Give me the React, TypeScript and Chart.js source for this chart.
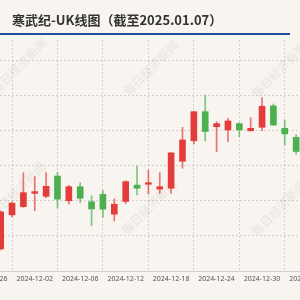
import React, { useEffect, useRef } from "react";
import { Chart, registerables } from "chart.js";

Chart.register(...registerables);

const titleText = "寒武纪-UK线图（截至2025.01.07）";
const watermarkText = "每日经济新闻";

const dates = [
  "2024-11-26", "2024-11-27", "2024-11-28", "2024-11-29", "2024-12-02",
  "2024-12-03", "2024-12-04", "2024-12-05", "2024-12-06", "2024-12-09",
  "2024-12-10", "2024-12-11", "2024-12-12", "2024-12-13", "2024-12-16",
  "2024-12-17", "2024-12-18", "2024-12-19", "2024-12-20", "2024-12-23",
  "2024-12-24", "2024-12-25", "2024-12-26", "2024-12-27", "2024-12-30",
  "2024-12-31", "2025-01-02", "2025-01-03", "2025-01-06", "2025-01-07",
];

// values for days outside the visible window are unknown (null)
const opens = [null, 592.6, 612.0, 616.7, 624.3, 622.6, 634.2, 620.1, 628.1, 619.5, 623.7, 612.4, 619.7, 629.0, 629.5, 626.7, 627.2, 642.6, 654.3, 670.9, 662.3, 660.5, 664.1, 660.0, 662.0, 674.2, 661.4, 656.3, null, null];
const closes = [null, 613.7, 618.7, 624.7, 625.3, 628.3, 621.0, 628.1, 621.5, 615.4, 615.3, 618.1, 631.0, 627.2, 630.4, 628.1, 647.4, 654.8, 670.9, 659.6, 664.1, 665.6, 660.5, 661.4, 674.0, 663.3, 658.2, 648.2, null, null];
const highs = [null, 614.2, 619.4, 636.1, 633.9, 636.1, 636.3, 628.9, 630.4, 622.9, 626.0, 621.1, 631.4, 639.9, 637.6, 636.1, 647.6, 662.0, 671.1, 680.4, 665.2, 667.1, 664.6, 667.5, 679.0, 675.3, 666.2, 657.9, null, null];
const lows = [null, 592.0, 610.9, 616.3, 614.4, 621.8, 615.9, 618.2, 619.0, 605.8, 610.5, 608.5, 618.4, 623.4, 623.9, 624.1, 624.2, 638.6, 652.5, 654.2, 648.1, 653.8, 656.6, 659.9, 660.1, 663.0, 651.9, 646.6, null, null];

const yMin = 580;
const yMax = 711.8;
const yStep = 20;
const labelStep = 4;
const xMin = -4.337;
const xMax = 32.619;

const UP = "#e23d3a";
const DOWN = "#4caf50";
const UP_WICK = "rgba(226,61,58,0.7)";
const DOWN_WICK = "rgba(76,175,80,0.7)";

const CANVAS_LEFT = -60;
const CANVAS_W = 420;
const CANVAS_H = 300;

const watermarkPlugin = {
  id: "watermark",
  beforeDatasetsDraw(chart: any) {
    const ctx = chart.ctx;
    const spots = [
      [19, 66], [151, 68], [279, 70],
      [18, 190], [149, 207], [279, 208],
    ];
    ctx.save();
    ctx.font = 'bold 12px "Noto Sans CJK SC", sans-serif';
    ctx.fillStyle = "rgba(0,0,0,0.055)";
    ctx.textAlign = "center";
    ctx.textBaseline = "middle";
    for (const [px, py] of spots) {
      ctx.save();
      ctx.translate(px - CANVAS_LEFT, py);
      ctx.rotate(-Math.PI / 4);
      ctx.fillText(watermarkText, 0, 0);
      ctx.restore();
    }
    ctx.restore();
  },
};

export default function App() {
  const ref = useRef<HTMLCanvasElement | null>(null);

  useEffect(() => {
    document.body.style.margin = "0";
    const idx = dates.map((_, i) => i).filter((i) => opens[i] != null);
    const colors = idx.map((i) => ((closes[i] as number) >= (opens[i] as number) ? UP : DOWN));
    const wickColors = idx.map((i) => ((closes[i] as number) >= (opens[i] as number) ? UP_WICK : DOWN_WICK));

    const chart = new Chart(ref.current as HTMLCanvasElement, {
      type: "bar",
      data: {
        datasets: [
          {
            label: "wick",
            data: idx.map((i) => ({ x: i, y: [lows[i], highs[i]] })) as any,
            backgroundColor: wickColors,
            barThickness: 1,
            grouped: false,
            order: 2,
          },
          {
            label: "body",
            data: idx.map((i) => ({ x: i, y: [opens[i], closes[i]] })) as any,
            backgroundColor: colors,
            barThickness: 6,
            grouped: false,
            order: 1,
          },
        ],
      },
      options: {
        animation: false,
        responsive: false,
        maintainAspectRatio: false,
        devicePixelRatio: 1,
        layout: { padding: { top: 40, left: 0, right: 0, bottom: 0 } },
        plugins: {
          legend: { display: false },
          tooltip: { enabled: false },
          title: { display: false },
        },
        scales: {
          x: {
            type: "linear",
            min: xMin,
            max: xMax,
            offset: false,
            grid: { color: "rgba(0,0,0,0.14)", drawTicks: false },
            border: { display: true, color: "#cfcfcf", dash: [2, 2] },
            ticks: {
              stepSize: labelStep,
              autoSkip: false,
              includeBounds: false,
              maxRotation: 0,
              padding: 3.3,
              color: "#555",
              font: { family: '"Noto Sans", sans-serif', size: 7 },
              callback: (v: any) => dates[v as number] ?? "",
            },
            afterFit: (s: any) => {
              s.height = 29;
            },
          },
          y: {
            type: "linear",
            min: yMin,
            max: yMax,
            grid: { color: "rgba(0,0,0,0.14)", drawTicks: false },
            border: { display: false, dash: [2, 2] },
            ticks: { display: false, stepSize: yStep, includeBounds: false },
            afterFit: (s: any) => {
              s.width = 0;
            },
          },
        },
      } as any,
      plugins: [watermarkPlugin],
    });
    return () => chart.destroy();
  }, []);

  return (
    <div
      style={{
        position: "fixed",
        left: 0,
        top: 0,
        width: 300,
        height: 300,
        overflow: "hidden",
        background: "#f8f5f0",
      }}
    >
      <canvas
        ref={ref}
        width={CANVAS_W}
        height={CANVAS_H}
        style={{ position: "absolute", left: CANVAS_LEFT, top: 0, width: CANVAS_W, height: CANVAS_H }}
      />
      <div
        style={{
          position: "absolute",
          left: 12,
          top: 11,
          fontFamily: '"Noto Sans CJK SC", sans-serif',
          fontWeight: "bold",
          fontSize: 13,
          lineHeight: "17px",
          color: "#333",
          whiteSpace: "nowrap",
        }}
      >
        {titleText}
      </div>
      <div
        style={{
          position: "absolute",
          left: 0,
          top: 33,
          width: 290,
          height: 2,
          background: "#1f4fa0",
        }}
      />
    </div>
  );
}
